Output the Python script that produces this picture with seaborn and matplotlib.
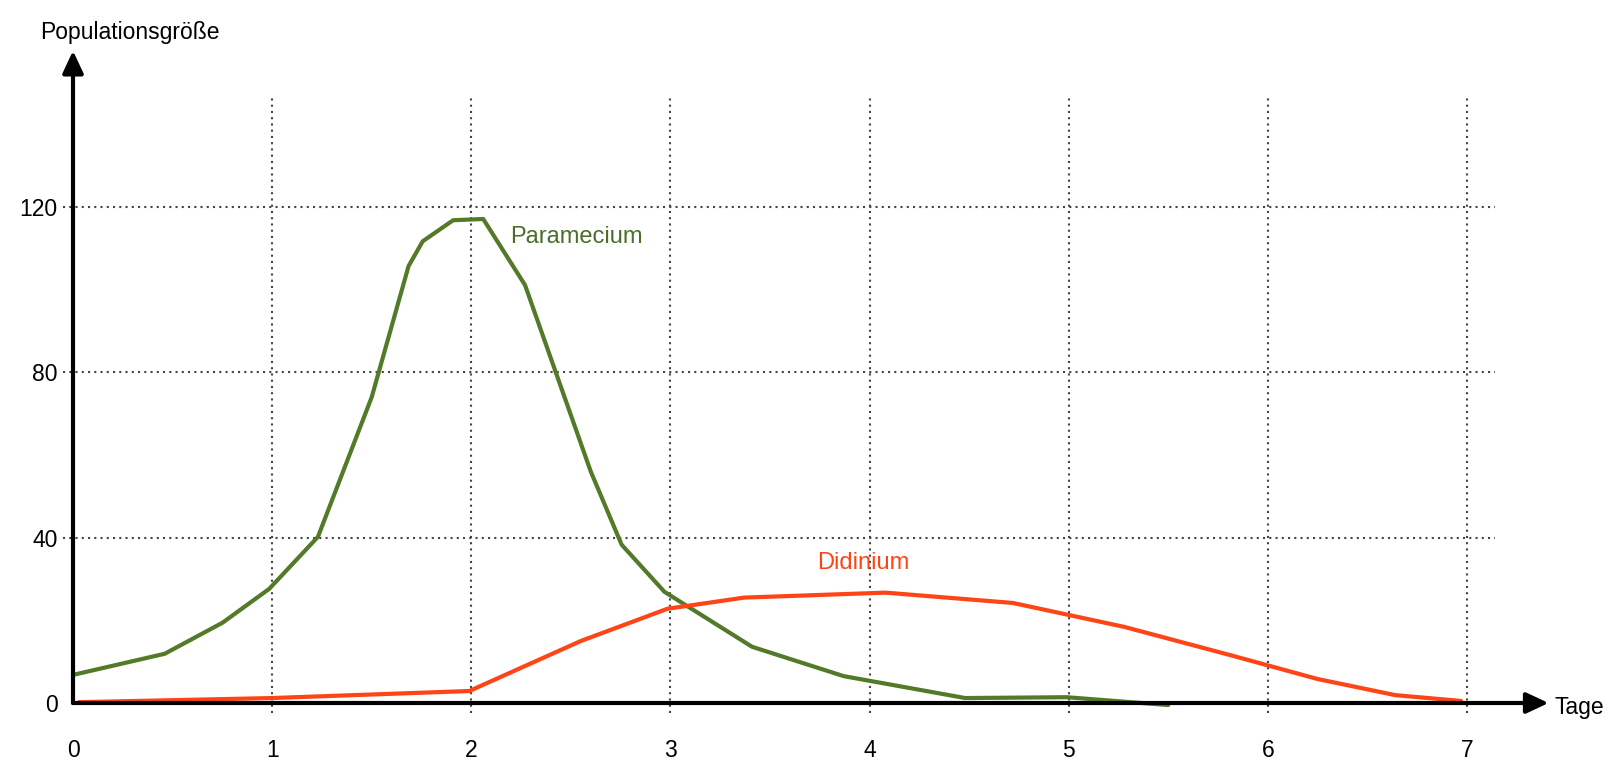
import matplotlib
matplotlib.use("Agg")
import matplotlib.pyplot as plt
import seaborn as sns
import pandas as pd

# ---- data ----
para_days = [0.0, 0.46, 0.75, 0.985, 1.23, 1.50, 1.685, 1.756, 1.909, 2.06, 2.27, 2.60, 2.755,
             2.97, 3.41, 3.87, 4.48, 4.99, 5.50]
para_pop = [6.8, 11.9, 19.4, 27.6, 40.2, 74.0, 105.7, 111.7, 116.8, 117.1, 101.1, 56.0, 38.3,
            26.9, 13.6, 6.5, 1.2, 1.4, -0.5]
didi_days = [0.03, 1.0, 1.99, 2.55, 2.985, 3.37, 4.08, 4.72, 5.28, 5.81, 6.25, 6.64, 6.97]
didi_pop = [0.2, 1.2, 2.9, 15.0, 22.8, 25.5, 26.7, 24.2, 18.4, 11.6, 5.8, 1.9, 0.5]
x_ticks = [0, 1, 2, 3, 4, 5, 6, 7]
y_ticks = [0, 40, 80, 120]
x_label = "Tage"
y_label = "Populationsgröße"
series_names = ["Paramecium", "Didinium"]

GREEN = "#537a28"
RED = "#ff4416"

sns.set_theme(style="white")
plt.rcParams["font.family"] = ["Liberation Sans", "DejaVu Sans"]

W, H = 1620, 779
fig = plt.figure(figsize=(W / 100, H / 100), dpi=100)
px_x = 199.14   # px per day
px_y = 4.1333   # px per population unit
XMAX, YMAX = 7.5, 160
ax = fig.add_axes([73 / W, 76 / H, XMAX * px_x / W, YMAX * px_y / H])
ax.set_xlim(0, XMAX)
ax.set_ylim(0, YMAX)
for s in ax.spines.values():
    s.set_visible(False)

# dotted grid
grid_kw = dict(color="#444444", lw=1.5, linestyles=(0, (1, 2)), clip_on=False, zorder=1)
ax.vlines(x_ticks[1:], -2.4, 146.4, **grid_kw)
ax.hlines(y_ticks[1:], -0.05, 7.14, **grid_kw)

# ticks
ax.set_xticks(x_ticks)
ax.set_yticks(y_ticks)
ax.tick_params(axis="x", length=0, pad=26, labelsize=16.5, labelcolor="black")
ax.tick_params(axis="y", length=0, pad=11, labelsize=16.5, labelcolor="black")

# series
df_p = pd.DataFrame({"Tage": para_days, "Pop": para_pop})
df_d = pd.DataFrame({"Tage": didi_days, "Pop": didi_pop})
sns.lineplot(data=df_p, x="Tage", y="Pop", ax=ax, color=GREEN, lw=3, sort=False,
             estimator=None, zorder=3, clip_on=False)
sns.lineplot(data=df_d, x="Tage", y="Pop", ax=ax, color=RED, lw=3, sort=False,
             estimator=None, zorder=3, clip_on=False)
ax.set_xlabel("")
ax.set_ylabel("")

# axes arrows
arrow_kw = dict(arrowstyle="-|>,head_length=0.9,head_width=0.42", lw=3, color="black",
                shrinkA=0, shrinkB=0, mutation_scale=15)
ax.annotate("", xy=(7.41, 0), xytext=(0, 0), arrowprops=arrow_kw,
            annotation_clip=False, zorder=4)
ax.annotate("", xy=(0, 157.8), xytext=(0, 0), arrowprops=arrow_kw,
            annotation_clip=False, zorder=4)

# labels
ax.text(7.44, -1.0, x_label, ha="left", va="center", fontsize=16.5, color="black")
ax.text(-0.166, 162.3, y_label, ha="left", va="center", fontsize=16.5, color="black")
ax.text(2.53, 112.8, series_names[0], ha="center", va="center", fontsize=17, color="#4b6e2a")
ax.text(3.97, 33.9, series_names[1], ha="center", va="center", fontsize=17, color=RED)

fig.savefig("out.png", dpi=100)
